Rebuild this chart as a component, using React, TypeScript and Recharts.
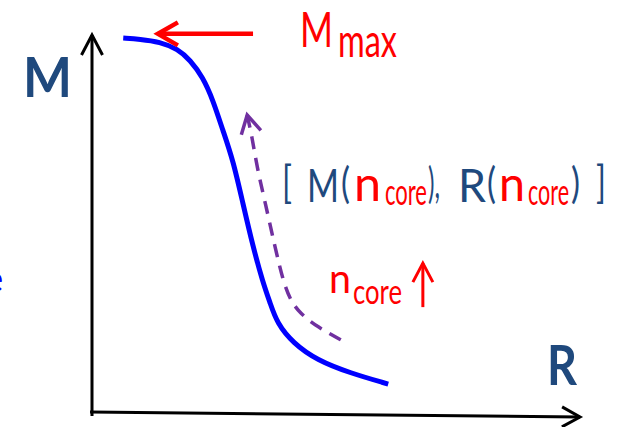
import { LineChart, Line, XAxis, YAxis, ReferenceLine } from "recharts"

// mass-radius sequence (arbitrary units, 0-100 on both axes)
const curveR = [6.4, 9.8, 13.9, 17.6, 20.1, 22.7, 24.8, 26.8, 28.9, 30.9, 33.0, 35.0, 36.5, 37.9, 41.2, 46.1, 52.9, 60.7]
const curveM = [99.2, 98.9, 98.2, 96.3, 93.4, 88.9, 82.8, 74.9, 67.0, 55.7, 44.1, 34.8, 29.3, 24.0, 18.7, 14.2, 10.8, 7.9]

// direction of increasing central density, first point is the arrow tip
const pathR = [31.8, 32.8, 33.8, 35.5, 37.5, 39.1, 40.6, 42.6, 46.1, 51.8]
const pathM = [78.9, 73.1, 65.2, 55.7, 44.1, 35.4, 30.1, 26.6, 23.0, 19.0]

// annotation arrows: [start, end]
const mmaxArrow = [{ x: 33.0, y: 100.3 }, { x: 13.5, y: 100.3 }]
const ncoreArrow = [{ x: 67.8, y: 28.2 }, { x: 67.8, y: 39.8 }]
const yAxisArrow = [{ x: 0, y: -0.5 }, { x: 0, y: 100 }]
const xAxisArrow = [{ x: -0.4, y: 0.5 }, { x: 100, y: -0.8 }]

const curve = curveR.map((r, i) => ({ r, m: curveM[i] }))
const path = pathR.map((r, i) => ({ r, m: pathM[i] }))

const BLUE = "#1f497d"
const RED = "#ff0000"

function arrow(len: number, half: number, shaft = true) {
  return (props: any) => {
    const { x1, y1, x2, y2, stroke, strokeWidth } = props
    const dx = x2 - x1
    const dy = y2 - y1
    const l = Math.hypot(dx, dy) || 1
    const ux = dx / l
    const uy = dy / l
    const bx = x2 - ux * len
    const by = y2 - uy * len
    const d = `M${bx - uy * half},${by + ux * half} L${x2},${y2} L${bx + uy * half},${by - ux * half}`
    return (
      <g>
        {shaft && <line x1={x1} y1={y1} x2={x2} y2={y2} stroke={stroke} strokeWidth={strokeWidth} />}
        <path d={d} fill="none" stroke={stroke} strokeWidth={strokeWidth} strokeLinejoin="miter" />
      </g>
    )
  }
}

const txt = (
  t: string,
  x: number,
  y: number,
  w: number,
  size: number,
  color: string,
  weight = 400
) => (
  <text
    x={x}
    y={y}
    fontSize={size}
    fontWeight={weight}
    fill={color}
    textLength={w}
    lengthAdjust="spacingAndGlyphs"
  >
    {t}
  </text>
)

export default function App() {
  return (
    <div style={{ position: "absolute", left: 0, top: 0, width: 619, height: 427, background: "#fff" }}>
      <LineChart
        width={619}
        height={427}
        margin={{ top: 35, right: 39, bottom: 13, left: 92 }}
      >
        <XAxis type="number" dataKey="r" domain={[0, 100]} hide />
        <YAxis type="number" dataKey="m" domain={[0, 100]} hide />
        <ReferenceLine segment={yAxisArrow} stroke="#000" strokeWidth={3} ifOverflow="visible" shape={arrow(20, 10.5)} />
        <ReferenceLine segment={xAxisArrow} stroke="#000" strokeWidth={3} ifOverflow="visible" shape={arrow(18, 10)} />
        <Line
          data={curve}
          dataKey="m"
          type="basis"
          stroke="#0000ff"
          strokeWidth={5}
          dot={false}
          isAnimationActive={false}
        />
        <Line
          data={path}
          dataKey="m"
          type="basis"
          stroke="#7030a0"
          strokeWidth={3.5}
          strokeDasharray="13 9"
          dot={false}
          isAnimationActive={false}
        />
        <ReferenceLine
          segment={[path[1], path[0]].map((p) => ({ x: p.r, y: p.m }))}
          stroke="#7030a0"
          strokeWidth={3.5}
          ifOverflow="visible"
          shape={arrow(18, 10, false)}
        />
        <ReferenceLine segment={mmaxArrow} stroke={RED} strokeWidth={4.5} ifOverflow="visible" shape={arrow(20, 11.5)} />
        <ReferenceLine segment={ncoreArrow} stroke={RED} strokeWidth={3} ifOverflow="visible" shape={arrow(19, 10)} />
      </LineChart>
      <svg
        width={619}
        height={427}
        style={{ position: "absolute", left: 0, top: 0, pointerEvents: "none", fontFamily: "Lato" }}
      >
        {txt("M", 23, 97, 49, 56, BLUE, 700)}
        {txt("R", 547, 385, 30, 56, BLUE, 700)}
        {txt("e", -14, 292, 17, 36, "#0000ff")}

        {txt("M", 300, 47, 33, 49, RED)}
        {txt("max", 338, 57, 59, 47, RED)}

        {txt("[", 282, 198, 10, 44, BLUE)}
        {txt("M", 307, 202, 32, 47, BLUE)}
        {txt("(", 341, 198, 9, 42, BLUE)}
        {txt("n", 354, 201, 27, 48, RED)}
        {txt("core", 385, 205, 42, 37, RED)}
        {txt("),", 428, 198, 12, 42, BLUE)}
        {txt("R", 458, 202, 28, 47, BLUE)}
        {txt("(", 487, 198, 9, 42, BLUE)}
        {txt("n", 499, 201, 26, 48, RED)}
        {txt("core", 528, 205, 41, 37, RED)}
        {txt(")", 571, 198, 9, 42, BLUE)}
        {txt("]", 596, 198, 10, 44, BLUE)}

        {txt("n", 329, 293, 22, 40, RED)}
        {txt("core", 353, 304, 49, 34, RED)}
      </svg>
    </div>
  )
}
